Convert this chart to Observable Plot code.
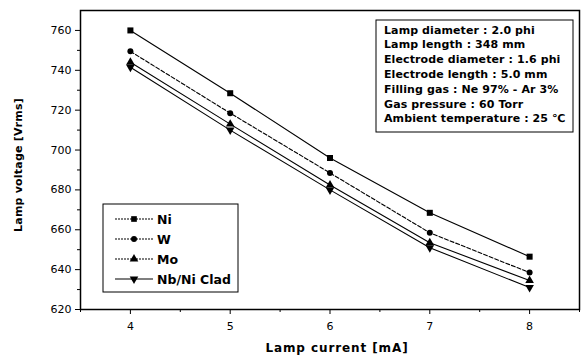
<!DOCTYPE html>
<html><head><meta charset="utf-8">
<script src="https://cdn.jsdelivr.net/npm/d3@7"></script>
<script src="https://cdn.jsdelivr.net/npm/@observablehq/plot@0.6"></script>
<style>
body{margin:0;background:#fff;}
#chart{position:relative;width:581px;height:358px;}
svg{font-family:"DejaVu Sans",sans-serif;}
</style>
</head><body><div id="chart"></div>
<script>
const currents = [4, 5, 6, 7, 8];
const seriesNames = ["Ni", "W", "Mo", "Nb/Ni Clad"];
const ni = [760, 728.5, 696, 668.5, 646.5];
const w = [749.5, 718.5, 688.5, 658.5, 638.5];
const mo = [744, 713, 682.5, 653.5, 634.5];
const nbni = [741.5, 710, 680, 651, 631];
const yTicks = [620, 640, 660, 680, 700, 720, 740, 760];
const xTicks = [4, 5, 6, 7, 8];
const infoLines = [
  "Lamp diameter : 2.0 phi",
  "Lamp length : 348 mm",
  "Electrode diameter : 1.6 phi",
  "Electrode length : 5.0 mm",
  "Filling gas : Ne 97% - Ar 3%",
  "Gas pressure : 60 Torr",
  "Ambient temperature : 25 \u2103"
];

const allSeries = [ni, w, mo, nbni];
const data = [];
allSeries.forEach((vals, si) => vals.forEach((v, i) => data.push({s: seriesNames[si], x: currents[i], y: v})));
const symbols = {"Ni": "square", "W": "circle", "Mo": "triangle", "Nb/Ni Clad": "triangle"};
const rot = {"Ni": 0, "W": 0, "Mo": 0, "Nb/Ni Clad": 180};
const rad = {"Ni": 3.4, "W": 3, "Mo": 3.2, "Nb/Ni Clad": 3.2};
const dash = {"Ni": null, "W": "4,2", "Mo": null, "Nb/Ni Clad": null};

const marks = [];
seriesNames.forEach(s => {
  const d = data.filter(r => r.s === s);
  marks.push(Plot.line(d, {x: "x", y: "y", stroke: "#000", strokeWidth: 1.1, strokeDasharray: dash[s]}));
  marks.push(Plot.dot(d, {x: "x", y: "y", symbol: () => symbols[s], rotate: rot[s], fill: "#000", r: rad[s]}));
});

const minorY = d3.range(630, 770, 20);
const minorX = [3.5, 4.5, 5.5, 6.5, 7.5, 8.5];

const plot = Plot.plot({
  width: 581, height: 358,
  marginLeft: 80, marginRight: 2, marginTop: 10, marginBottom: 49,
  style: {fontFamily: "DejaVu Sans, sans-serif", fontSize: "11px", color: "#000"},
  x: {domain: [3.5, 8.5]},
  y: {domain: [620, 770]},
  marks: [
    Plot.axisY(yTicks, {tickSize: 5, tickPadding: 4, fontSize: 11, label: null}),
    Plot.axisY(minorY, {tickSize: 3, text: null, label: null}),
    Plot.axisX(xTicks, {tickSize: 5, tickPadding: 8, fontSize: 11, label: null}),
    Plot.axisX(minorX, {tickSize: 3, text: null, label: null}),
    Plot.frame({stroke: "#000", strokeWidth: 1.5}),
    ...marks
  ]
});
document.getElementById("chart").appendChild(plot);

const svg = d3.select(plot);
// axis titles
svg.append("text").attr("x", 337).attr("y", 352).attr("text-anchor", "middle")
  .attr("font-size", 12).attr("font-weight", "bold").attr("letter-spacing", 0.9).text("Lamp current [mA]");
svg.append("text").attr("transform", "translate(22,165) rotate(-90)").attr("text-anchor", "middle")
  .attr("font-size", 11).attr("font-weight", "bold").attr("letter-spacing", 0.2).text("Lamp voltage [Vrms]");

// info box
const ib = svg.append("g").attr("text-anchor", "start");
ib.append("rect").attr("x", 376).attr("y", 20).attr("width", 197).attr("height", 112)
  .attr("fill", "#fff").attr("stroke", "#000").attr("stroke-width", 1);
infoLines.forEach((t, i) => ib.append("text").attr("x", 384).attr("y", 33.5 + i * 14.8)
  .attr("font-size", 11).attr("font-weight", "bold").attr("letter-spacing", 0.1).text(t));

// legend
const lg = svg.append("g").attr("text-anchor", "start");
lg.append("rect").attr("x", 103).attr("y", 204).attr("width", 135).attr("height", 88)
  .attr("fill", "#fff").attr("stroke", "#000").attr("stroke-width", 1);
const legSym = {"Ni": d3.symbolSquare, "W": d3.symbolCircle, "Mo": d3.symbolTriangle, "Nb/Ni Clad": d3.symbolTriangle};
seriesNames.forEach((s, i) => {
  const yy = 219 + i * 20;
  lg.append("line").attr("x1", 115).attr("x2", 153).attr("y1", yy).attr("y2", yy)
    .attr("stroke", "#000").attr("stroke-width", 1.1).attr("stroke-dasharray", s === "Nb/Ni Clad" ? null : "2,1");
  lg.append("path").attr("d", d3.symbol(legSym[s], s === "W" ? 28 : 32)())
    .attr("transform", `translate(134,${yy}) rotate(${rot[s]})`).attr("fill", "#000");
  lg.append("text").attr("x", 157).attr("y", yy + 4.5).attr("font-size", 12.5).attr("font-weight", "bold").text(s);
});
</script>
</body></html>
